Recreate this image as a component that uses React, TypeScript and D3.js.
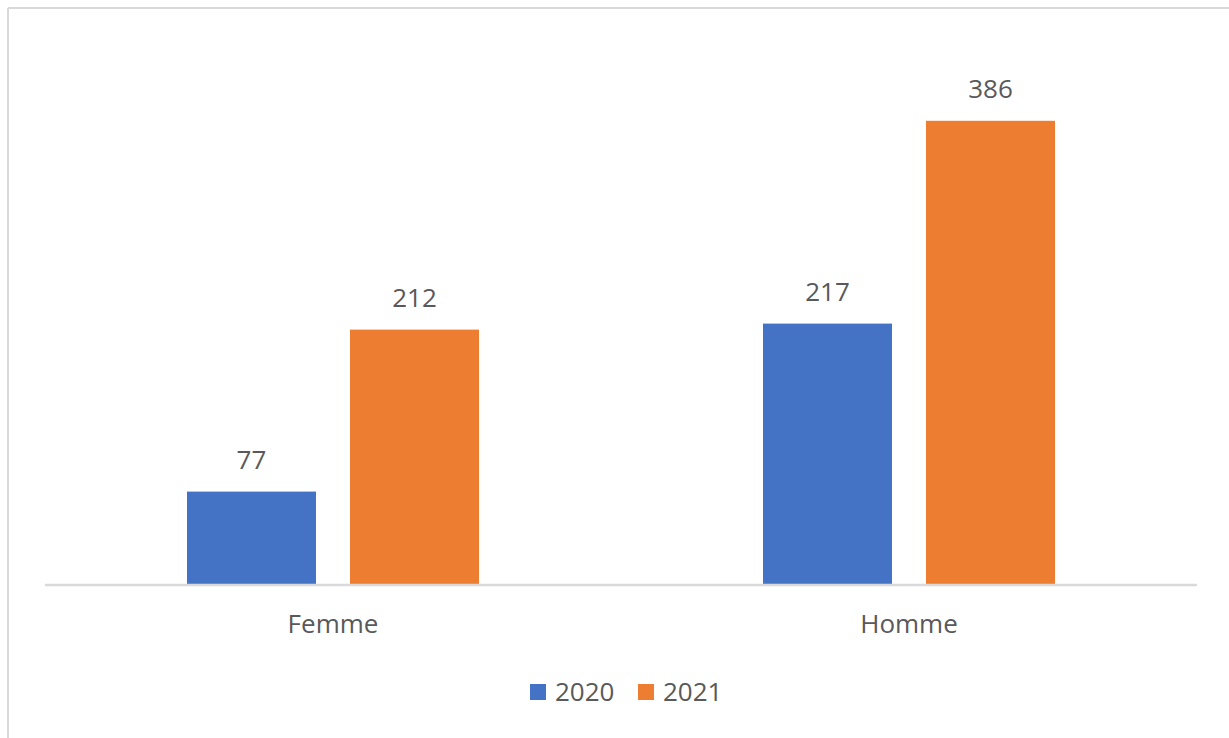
import React from "react";
import * as d3 from "d3";

const categories = ["Femme", "Homme"];
const seriesNames = ["2020", "2021"];
const values2020 = [77, 217];
const values2021 = [212, 386];
const colors = ["#4472C4", "#ED7D31"];

const W = 1229;
const H = 738;
const FONT = "'Open Sans', Lato, sans-serif";
const TEXT = "#595959";
const FS = 26;

export default function App() {
  const seriesValues = [values2020, values2021];
  const x0 = d3.scaleBand<string>().domain(categories).range([45, 1197]).paddingInner(0).paddingOuter(0);
  const x1 = d3
    .scaleBand<string>()
    .domain(seriesNames)
    .range([0, x0.bandwidth()])
    .paddingInner(0.2086)
    .paddingOuter(0.871);
  const y = d3.scaleLinear().domain([0, 450]).range([584, 44]);

  return (
    <svg
      width={W}
      height={H}
      style={{ position: "fixed", left: 0, top: 0, background: "#fff" }}
      fontFamily={FONT}
    >
      <rect x={0} y={0} width={W} height={H} fill="#fff" />
      {/* chart frame */}
      <line x1={8} y1={8} x2={W} y2={8} stroke="#d9d9d9" strokeWidth={2} />
      <line x1={8} y1={8} x2={8} y2={H} stroke="#d9d9d9" strokeWidth={2} />

      {categories.map((c, ci) => (
        <g key={c} transform={`translate(${x0(c)},0)`}>
          {seriesNames.map((s, si) => {
            const v = seriesValues[si][ci];
            const bx = x1(s)!;
            return (
              <g key={s}>
                <rect x={bx} y={y(v)} width={x1.bandwidth()} height={y(0) - y(v)} fill={colors[si]} />
                <text
                  x={bx + x1.bandwidth() / 2}
                  y={y(v) - 23}
                  textAnchor="middle"
                  fontSize={FS}
                  fill={TEXT}
                >
                  {v}
                </text>
              </g>
            );
          })}
          <text x={x0.bandwidth() / 2} y={633} textAnchor="middle" fontSize={FS} fill={TEXT}>
            {c}
          </text>
        </g>
      ))}

      {/* baseline */}
      <line x1={45} y1={y(0) + 1} x2={1197} y2={y(0) + 1} stroke="#d9d9d9" strokeWidth={2.5} />

      {/* legend */}
      {seriesNames.map((s, si) => {
        const lx = 530 + si * 108;
        return (
          <g key={s}>
            <rect x={lx} y={684} width={16} height={16} fill={colors[si]} />
            <text x={lx + 25} y={701} fontSize={FS} fill={TEXT}>
              {s}
            </text>
          </g>
        );
      })}
    </svg>
  );
}
